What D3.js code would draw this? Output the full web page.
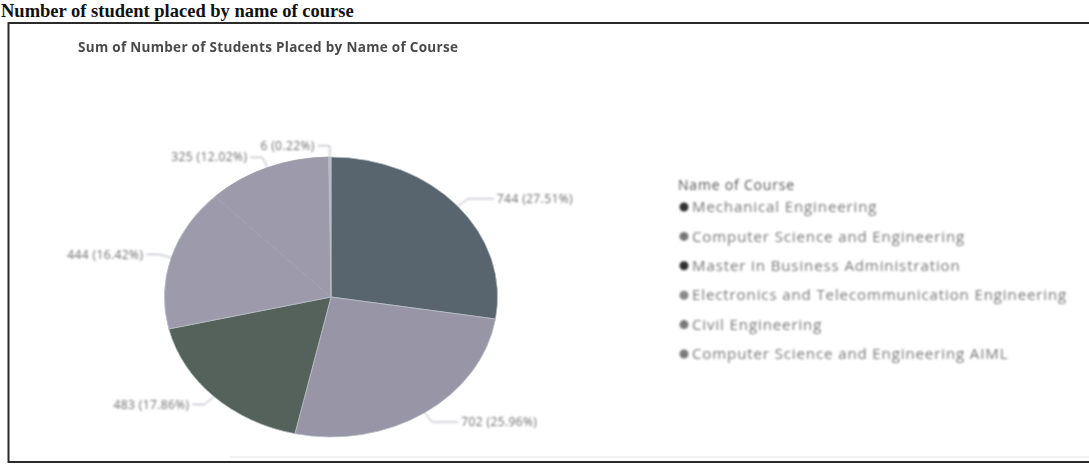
<!DOCTYPE html>
<html>
<head>
<meta charset="utf-8">
<script src="https://cdn.jsdelivr.net/npm/d3@7/dist/d3.min.js"></script>
<style>
  html, body { margin: 0; padding: 0; background: #fff; }
  svg { display: block; }
</style>
</head>
<body>
<svg id="chart" width="1089" height="464"></svg>
<script>
// Placement counts per course
const courses = [
  "Mechanical Engineering",
  "Computer Science and Engineering",
  "Master in Business Administration",
  "Electronics and Telecommunication Engineering",
  "Civil Engineering",
  "Computer Science and Engineering AIML"
];
const placed = [744, 702, 483, 444, 325, 6];
const sliceColors = ["#58646e", "#9795a6", "#55615b", "#9c9aab", "#9c9aab", "#b8b9c6"];
const dotColors = ["#333333", "#777777", "#333333", "#888888", "#7a7a7a", "#7a7a7a"];

const pageTitle = "Number of student placed by name of course";
const chartTitle = "Sum of Number of Students Placed by Name of Course";
const legendTitle = "Name of Course";

const data = courses.map((c, i) => ({ course: c, value: placed[i], color: sliceColors[i], dot: dotColors[i] }));
const total = d3.sum(placed);

const svg = d3.select("#chart");
const defs = svg.append("defs");
defs.append("filter").attr("id", "soft").attr("x", "-5%").attr("y", "-20%").attr("width", "110%").attr("height", "140%")
  .append("feGaussianBlur").attr("stdDeviation", 0.85);
defs.append("filter").attr("id", "softer").attr("x", "-5%").attr("y", "-20%").attr("width", "110%").attr("height", "140%")
  .append("feGaussianBlur").attr("stdDeviation", 0.5);

// Heading above the visual frame
svg.append("text")
  .attr("x", 1).attr("y", 17)
  .attr("font-family", "Liberation Serif, Times New Roman, serif")
  .attr("font-weight", "bold")
  .attr("font-size", 18.5)
  .attr("fill", "#111")
  .text(pageTitle);

// Visual frame
svg.append("rect")
  .attr("x", 8.5).attr("y", 23)
  .attr("width", 1095).attr("height", 439)
  .attr("fill", "none")
  .attr("stroke", "#2a2a2a")
  .attr("stroke-width", 2);
svg.append("line")
  .attr("x1", 230).attr("x2", 1089).attr("y1", 457).attr("y2", 457)
  .attr("stroke", "#e6e6e6").attr("stroke-width", 1);

// Visual title
svg.append("text")
  .attr("x", 78).attr("y", 52)
  .attr("font-family", "Open Sans, sans-serif")
  .attr("font-weight", 700)
  .attr("font-size", 13.5)
  .attr("letter-spacing", 0.3)
  .attr("fill", "#4a4a4a")
  .attr("filter", "url(#softer)")
  .text(chartTitle);

// Pie (slightly wider than tall)
const cx = 331, cy = 297, r = 140, sx = 1.19;
const pie = d3.pie().sort(null).value(d => d.value);
const arcs = pie(data);
const arc = d3.arc().innerRadius(0).outerRadius(r);

const pieG = svg.append("g")
  .attr("transform", `translate(${cx},${cy}) scale(${sx},1)`);
pieG.selectAll("path.slice")
  .data(arcs)
  .join("path")
  .attr("class", "slice")
  .attr("d", arc)
  .attr("fill", d => d.data.color)
  .attr("stroke", d => d.index === 4 ? d.data.color : "#b9c0c6")
  .attr("stroke-width", 0.8)
  .attr("vector-effect", "non-scaling-stroke");

// Data labels with leader lines
const fmtPct = d3.format(".2%");
const labelG = svg.append("g").attr("filter", "url(#soft)");
arcs.forEach(a => {
  const mid = (a.startAngle + a.endAngle) / 2;
  const s = Math.sin(mid), c = Math.cos(mid);
  const p0 = [cx + r * sx * s, cy - r * c];
  const p1 = [cx + r * 1.08 * sx * s, cy - r * 1.08 * c];
  const right = s > 0.001;
  const p2 = [p1[0] + (right ? 26 : -12), p1[1]];
  labelG.append("path")
    .attr("d", d3.line()([p0, p1, p2]))
    .attr("fill", "none")
    .attr("stroke", "#a9a9b9")
    .attr("stroke-width", 1);
  labelG.append("text")
    .attr("x", p2[0] + (right ? 3 : -3))
    .attr("y", p2[1])
    .attr("dy", "0.35em")
    .attr("text-anchor", right ? "start" : "end")
    .attr("font-family", "Open Sans, sans-serif")
    .attr("font-size", 12)
    .attr("letter-spacing", 0.4)
    .attr("fill", "#6d6d6d")
    .text(`${a.data.value} (${fmtPct(a.data.value / total)})`);
});

// Legend
const legend = svg.append("g").attr("transform", "translate(678,185)").attr("filter", "url(#soft)");
legend.append("text")
  .attr("x", 0).attr("y", 0).attr("dy", "0.35em")
  .attr("font-family", "Open Sans, sans-serif")
  .attr("font-size", 14)
  .attr("letter-spacing", 0.8)
  .attr("fill", "#555")
  .text(legendTitle);
const rowY = d3.scalePoint().domain(courses).range([22, 169]);
const items = legend.selectAll("g.item")
  .data(data)
  .join("g")
  .attr("class", "item")
  .attr("transform", d => `translate(0,${rowY(d.course)})`);
items.append("circle")
  .attr("cx", 6).attr("cy", 0).attr("r", 4.5)
  .attr("fill", d => d.dot);
items.append("text")
  .attr("x", 14).attr("y", 0).attr("dy", "0.35em")
  .attr("font-family", "Open Sans, sans-serif")
  .attr("font-size", 15)
  .attr("letter-spacing", 0.9)
  .attr("fill", "#777")
  .text(d => d.course);
</script>
</body>
</html>
